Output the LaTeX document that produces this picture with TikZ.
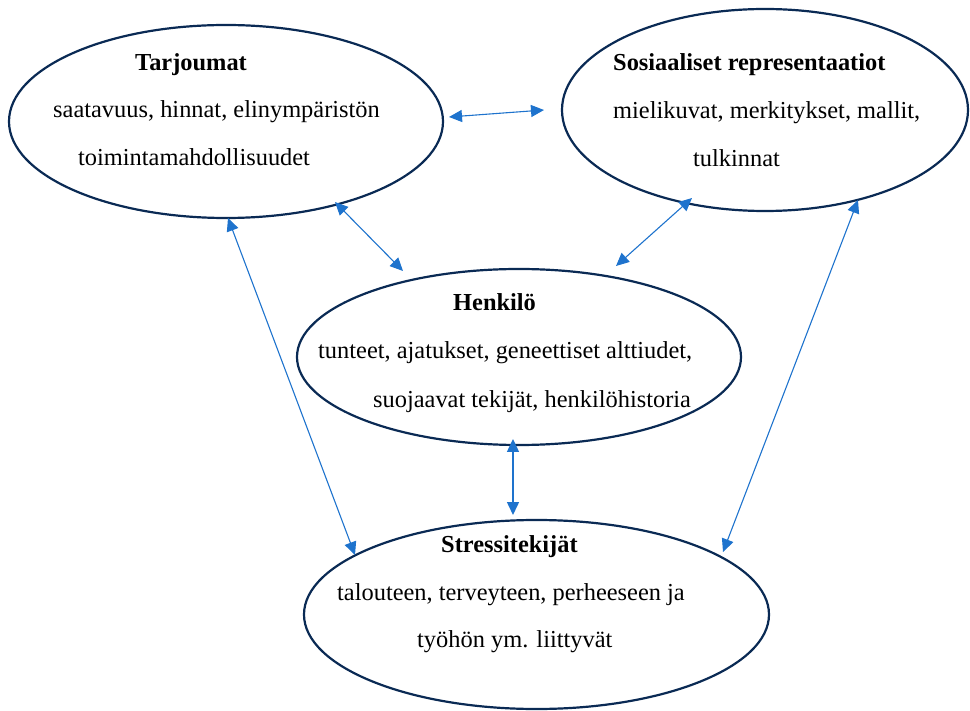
\documentclass[tikz,border=0pt]{standalone}
\usepackage{fontspec}
\setmainfont{Liberation Serif}
\usetikzlibrary{shapes.geometric,arrows.meta}
\definecolor{navy}{RGB}{10,42,84}
\definecolor{arrblue}{RGB}{30,115,205}
\tikzset{
  bubble/.style={draw=navy, line width=2.2pt, ellipse, inner sep=0pt, outer sep=0pt},
  lbl/.style={anchor=base west, inner sep=0pt, font=\fontsize{24.4}{28}\selectfont},
  head/.style={lbl, font=\fontsize{24.4}{28}\selectfont\bfseries},
  link/.style={draw=arrblue, line width=1.1pt, {Triangle[length=13pt,width=12pt]}-{Triangle[length=13pt,width=12pt]}}
}
\begin{document}
\begin{tikzpicture}[x=1pt,y=-1pt]
\useasboundingbox (0,0) rectangle (970,711);
% ellipses
\node[bubble, minimum width=434pt, minimum height=193pt] (e1) at (226,121.5) {};
\node[bubble, minimum width=406pt, minimum height=202pt] (e2) at (765,110) {};
\node[bubble, minimum width=444pt, minimum height=176pt] (e3) at (519,357) {};
\node[bubble, minimum width=465pt, minimum height=189pt] (e4) at (536.5,614.5) {};
% texts
\node[head] (t1) at (135,71) {Tarjoumat};
\node[lbl] (t1a) at (53,118) {saatavuus, hinnat, elinympäristön};
\node[lbl] (t1b) at (78,166) {toimintamahdollisuudet};
\node[head] (t2) at (613,71) {Sosiaaliset representaatiot};
\node[lbl] (t2a) at (613,119) {mielikuvat, merkitykset, mallit,};
\node[lbl] (t2b) at (693,167) {tulkinnat};
\node[head] (t3) at (453,311) {Henkilö};
\node[lbl] (t3a) at (318,359) {tunteet, ajatukset, geneettiset alttiudet,};
\node[lbl] (t3b) at (373,408) {suojaavat tekijät, henkilöhistoria};
\node[head] (t4) at (441,552) {Stressitekijät};
\node[lbl] (t4a) at (337,600) {talouteen, terveyteen, perheeseen ja};
\node[lbl] (t4b) at (417,647) {työhön ym. liittyvät};
% connector ends
\coordinate (p1a) at (449,117);
\coordinate (p1b) at (544,110);
\coordinate (p2a) at (335,202);
\coordinate (p2b) at (403,271);
\coordinate (p3a) at (692,198);
\coordinate (p3b) at (616,266);
\coordinate (p4a) at (228,218);
\coordinate (p4b) at (355,555);
\coordinate (p5a) at (858,200);
\coordinate (p5b) at (723,552);
\coordinate (p6a) at (513,439);
\coordinate (p6b) at (513,515);
% connectors
\draw[link] (p1a) -- (p1b);
\draw[link] (p2a) -- (p2b);
\draw[link] (p3a) -- (p3b);
\draw[link] (p4a) -- (p4b);
\draw[link] (p5a) -- (p5b);
\draw[link, line width=1.5pt] (p6a) -- (p6b);
\end{tikzpicture}
\end{document}
